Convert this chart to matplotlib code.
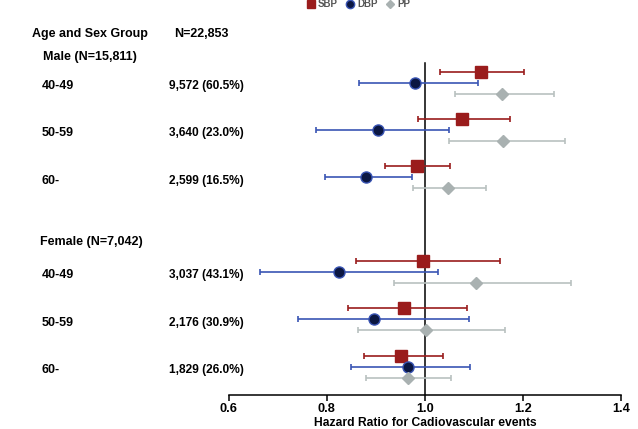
import matplotlib
matplotlib.use("Agg")
import matplotlib.pyplot as plt
from matplotlib.lines import Line2D
import matplotlib.transforms as mtransforms

plt.rcParams['font.family'] = ['Liberation Sans', 'DejaVu Sans']

groups = ["40-49", "50-59", "60-", "40-49", "50-59", "60-"]
counts = ["9,572 (60.5%)", "3,640 (23.0%)", "2,599 (16.5%)",
          "3,037 (43.1%)", "2,176 (30.9%)", "1,829 (26.0%)"]
rows = [0, 1, 2, 4, 5, 6]

sbp = [1.114, 1.075, 0.983, 0.996, 0.957, 0.952]
sbp_lo = [1.031, 0.987, 0.918, 0.859, 0.844, 0.876]
sbp_hi = [1.203, 1.174, 1.051, 1.153, 1.085, 1.036]

dbp = [0.979, 0.904, 0.880, 0.824, 0.897, 0.965]
dbp_lo = [0.866, 0.779, 0.796, 0.664, 0.742, 0.849]
dbp_hi = [1.108, 1.049, 0.973, 1.027, 1.090, 1.093]

pp = [1.158, 1.160, 1.047, 1.104, 1.003, 0.965]
pp_lo = [1.062, 1.049, 0.975, 0.937, 0.864, 0.881]
pp_hi = [1.263, 1.285, 1.125, 1.299, 1.163, 1.053]

W, H = 638, 429
fig = plt.figure(figsize=(W / 100, H / 100), dpi=100)
ax = fig.add_axes([228.7 / W, 34 / H, 392.3 / W, 395 / H])

c_sbp = '#9A1C1C'
c_dbp_line = '#3A55B4'
c_dbp_face = '#0B1742'
c_pp = '#B9C1C0'
c_pp_face = '#A9B1B1'

off = 0.2325

def draw(vals, lo, hi, dy, lc, marker, ms, mfc, mec):
    ys = [r + dy for r in rows]
    xerr = [[v - l for v, l in zip(vals, lo)], [h - v for v, h in zip(vals, hi)]]
    ax.errorbar(vals, ys, xerr=xerr, fmt='none', ecolor=lc, elinewidth=1.2,
                capsize=2.2, capthick=1.2, zorder=2)
    ax.plot(vals, ys, linestyle='none', marker=marker, markersize=ms,
            markerfacecolor=mfc, markeredgecolor=mec, markeredgewidth=1.0, zorder=3)

ax.plot([1.0, 1.0], [6.60, -0.42], color='black', lw=1.1, zorder=1)

draw(sbp, sbp_lo, sbp_hi, -off, c_sbp, 's', 8.3, c_sbp, c_sbp)
draw(dbp, dbp_lo, dbp_hi, 0, c_dbp_line, 'o', 8, c_dbp_face, c_dbp_line)
draw(pp, pp_lo, pp_hi, off, c_pp, 'D', 6.5, c_pp_face, c_pp_face)

ax.set_xlim(0.6, 1.4)
ax.set_ylim(6.60, -1.75)
ax.set_xticks([0.6, 0.8, 1.0, 1.2, 1.4])
ax.set_xticklabels(["0.6", "0.8", "1.0", "1.2", "1.4"], fontweight='bold', fontsize=9.2)
ax.set_yticks([])
for s in ['top', 'right', 'left']:
    ax.spines[s].set_visible(False)
ax.spines['bottom'].set_linewidth(1.1)
ax.tick_params(axis='x', length=4, width=1.1, pad=2)
ax.set_xlabel("Hazard Ratio for Cadiovascular events", fontweight='bold', fontsize=8.7, labelpad=1)

trans = mtransforms.blended_transform_factory(fig.transFigure, ax.transData)
fs = 9
ax.text(31.7 / W, -1.03, "Age and Sex Group", transform=trans, fontsize=9, fontweight='bold', va='center', ha='left', clip_on=False)
ax.text(174 / W, -1.03, "N=22,853", transform=trans, fontsize=9, fontweight='bold', va='center', ha='left', clip_on=False)
ax.text(43 / W, -0.55, "Male (N=15,811)", transform=trans, fontsize=fs, fontweight='bold', va='center', ha='left', clip_on=False)
ax.text(40 / W, 3.37, "Female (N=7,042)", transform=trans, fontsize=fs, fontweight='bold', va='center', ha='left', clip_on=False)
for r, g, c in zip(rows, groups, counts):
    ax.text(42 / W, r + 0.07, g, transform=trans, fontsize=fs, fontweight='bold', va='center', ha='left', clip_on=False)
    ax.text(169 / W, r + 0.07, c, transform=trans, fontsize=8.6, fontweight='bold', va='center', ha='left', clip_on=False)

handles = [
    Line2D([], [], linestyle='none', marker='s', markersize=6, color=c_sbp),
    Line2D([], [], linestyle='none', marker='o', markersize=6, markerfacecolor=c_dbp_face, markeredgecolor=c_dbp_line),
    Line2D([], [], linestyle='none', marker='D', markersize=4.5, color=c_pp_face),
]
leg = fig.legend(handles, ["SBP", "DBP", "PP"], loc='center', bbox_to_anchor=(358 / W, 1 - 4 / H),
                 ncol=3, frameon=False, handletextpad=0.2, columnspacing=0.8,
                 handlelength=1.0, prop={'weight': 'bold', 'size': 7})
for t in leg.get_texts():
    t.set_color('#555555')

fig.savefig("out.png", dpi=100)
